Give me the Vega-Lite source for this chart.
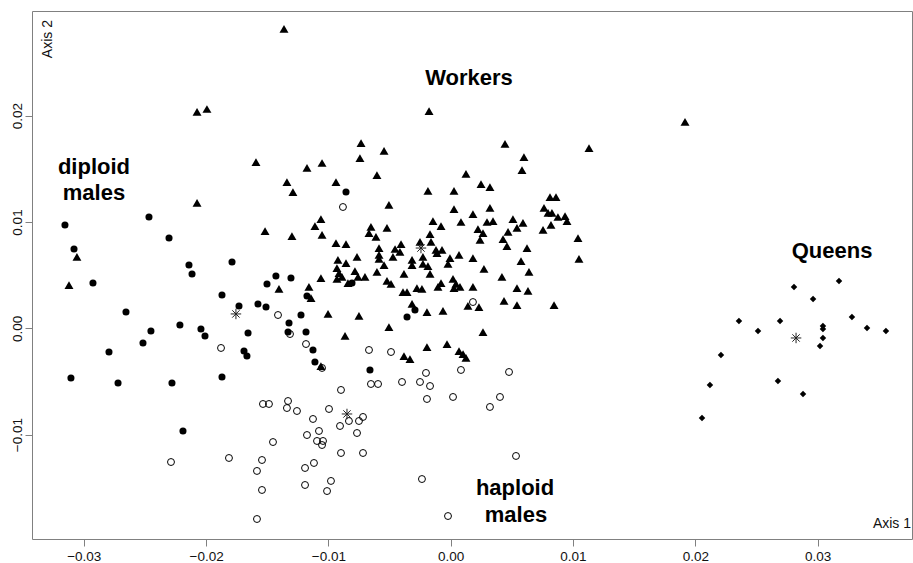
{
  "$schema": "https://vega.github.io/schema/vega-lite/v6.json",
  "width": 880,
  "height": 528,
  "autosize": {"type": "none"},
  "padding": {"left": 32, "top": 11, "right": 1, "bottom": 24},
  "background": "white",
  "config": {
    "view": {"stroke": "#808080", "strokeWidth": 1},
    "axis": {"domain": false, "grid": false, "tickColor": "#808080", "tickSize": 7, "labelFont": "Liberation Sans", "labelFontSize": 13.5, "labelColor": "#111111"}
  },
  "datasets": {
    "pts": [
      {"x":-0.01363,"y":0.02816,"g":"W"},{"x":-0.02074,"y":0.02035,"g":"W"},{"x":-0.01993,"y":0.02063,"g":"W"},{"x":-0.00177,"y":0.02044,"g":"W"},{"x":0.01916,"y":0.01941,"g":"W"},
      {"x":-0.00733,"y":0.01743,"g":"W"},{"x":-0.00545,"y":0.01668,"g":"W"},{"x":-0.00742,"y":0.01602,"g":"W"},{"x":0.00444,"y":0.01734,"g":"W"},{"x":0.01131,"y":0.01696,"g":"W"},
      {"x":-0.01592,"y":0.01564,"g":"W"},{"x":-0.01175,"y":0.01508,"g":"W"},{"x":-0.01052,"y":0.01555,"g":"W"},{"x":0.00599,"y":0.01611,"g":"W"},{"x":0.00583,"y":0.01489,"g":"W"},
      {"x":0.00125,"y":0.01452,"g":"W"},{"x":-0.00603,"y":0.01442,"g":"W"},{"x":-0.01339,"y":0.01376,"g":"W"},{"x":-0.0129,"y":0.01282,"g":"W"},{"x":-0.00938,"y":0.01376,"g":"W"},
      {"x":0.00248,"y":0.01357,"g":"W"},{"x":0.00321,"y":0.01329,"g":"W"},{"x":-0.00186,"y":0.01292,"g":"W"},{"x":0.00027,"y":0.01292,"g":"W"},{"x":-0.02074,"y":0.01179,"g":"W"},
      {"x":-0.00505,"y":0.0116,"g":"W"},{"x":0.00812,"y":0.01235,"g":"W"},{"x":0.00861,"y":0.01235,"g":"W"},{"x":0.00027,"y":0.01122,"g":"W"},{"x":0.00321,"y":0.01132,"g":"W"},
      {"x":0.00182,"y":0.01075,"g":"W"},{"x":0.00763,"y":0.01132,"g":"W"},{"x":0.00796,"y":0.01085,"g":"W"},{"x":0.00828,"y":0.01085,"g":"W"},{"x":0.00877,"y":0.01047,"g":"W"},
      {"x":0.00935,"y":0.01056,"g":"W"},{"x":0.00951,"y":0.01009,"g":"W"},{"x":0.0082,"y":0.00972,"g":"W"},{"x":0.00755,"y":0.00925,"g":"W"},{"x":0.01041,"y":0.00849,"g":"W"},
      {"x":0.01049,"y":0.00652,"g":"W"},{"x":-0.00145,"y":0.01009,"g":"W"},{"x":-0.00079,"y":0.00962,"g":"W"},{"x":0.00084,"y":0.01,"g":"W"},{"x":0.00297,"y":0.01,"g":"W"},
      {"x":0.00346,"y":0.01009,"g":"W"},{"x":0.00509,"y":0.01028,"g":"W"},{"x":0.00591,"y":0.00991,"g":"W"},{"x":0.00542,"y":0.00944,"g":"W"},{"x":0.00223,"y":0.00934,"g":"W"},
      {"x":0.00264,"y":0.00896,"g":"W"},{"x":0.0024,"y":0.00831,"g":"W"},{"x":0.00469,"y":0.00906,"g":"W"},{"x":0.00428,"y":0.0084,"g":"W"},{"x":0.0046,"y":0.00774,"g":"W"},
      {"x":0.00624,"y":0.00755,"g":"W"},{"x":-0.01061,"y":0.01028,"g":"W"},{"x":-0.0111,"y":0.00962,"g":"W"},{"x":-0.01052,"y":0.00878,"g":"W"},{"x":-0.01518,"y":0.00915,"g":"W"},
      {"x":-0.01298,"y":0.00868,"g":"W"},{"x":-0.00652,"y":0.00953,"g":"W"},{"x":-0.00668,"y":0.00896,"g":"W"},{"x":-0.00611,"y":0.00859,"g":"W"},{"x":-0.00521,"y":0.00944,"g":"W"},
      {"x":-0.00938,"y":0.00802,"g":"W"},{"x":-0.00856,"y":0.00793,"g":"W"},{"x":-0.00406,"y":0.00793,"g":"W"},{"x":-0.00169,"y":0.00887,"g":"W"},{"x":-0.00161,"y":0.00812,"g":"W"},
      {"x":-0.00251,"y":0.00812,"g":"W"},{"x":-0.00586,"y":0.00755,"g":"W"},{"x":-0.00455,"y":0.00746,"g":"W"},{"x":-0.0012,"y":0.00737,"g":"W"},{"x":-0.00071,"y":0.00737,"g":"W"},
      {"x":-0.00112,"y":0.00708,"g":"W"},{"x":-0.03056,"y":0.00671,"g":"W"},{"x":-0.03121,"y":0.00407,"g":"W"},{"x":-0.00586,"y":0.0069,"g":"W"},{"x":-0.00586,"y":0.00652,"g":"W"},
      {"x":-0.00472,"y":0.00671,"g":"W"},{"x":-0.00415,"y":0.00718,"g":"W"},{"x":-0.00316,"y":0.00643,"g":"W"},{"x":-0.00227,"y":0.00671,"g":"W"},{"x":-0.00227,"y":0.00605,"g":"W"},
      {"x":-0.00186,"y":0.00586,"g":"W"},{"x":-0.00316,"y":0.00595,"g":"W"},{"x":-0.00006,"y":0.00661,"g":"W"},{"x":0.00068,"y":0.0069,"g":"W"},{"x":-0.00022,"y":0.00605,"g":"W"},
      {"x":0.00182,"y":0.00661,"g":"W"},{"x":0.00575,"y":0.00633,"g":"W"},{"x":0.00272,"y":0.00558,"g":"W"},{"x":0.0064,"y":0.0053,"g":"W"},{"x":-0.00766,"y":0.00671,"g":"W"},
      {"x":-0.00922,"y":0.00643,"g":"W"},{"x":-0.0093,"y":0.00567,"g":"W"},{"x":-0.00856,"y":0.00614,"g":"W"},{"x":-0.00783,"y":0.00539,"g":"W"},{"x":-0.00701,"y":0.00483,"g":"W"},
      {"x":-0.00603,"y":0.0053,"g":"W"},{"x":-0.00382,"y":0.00511,"g":"W"},{"x":-0.00169,"y":0.00511,"g":"W"},{"x":0.00419,"y":0.00483,"g":"W"},{"x":-0.01061,"y":0.00473,"g":"W"},
      {"x":-0.0093,"y":0.00464,"g":"W"},{"x":-0.00889,"y":0.00483,"g":"W"},{"x":-0.00545,"y":0.00595,"g":"W"},{"x":-0.00521,"y":0.00445,"g":"W"},{"x":-0.00488,"y":0.00417,"g":"W"},
      {"x":0.00019,"y":0.00464,"g":"W"},{"x":0.00043,"y":0.00417,"g":"W"},{"x":-0.00079,"y":0.00426,"g":"W"},{"x":-0.00104,"y":0.00389,"g":"W"},{"x":0.00076,"y":0.00389,"g":"W"},
      {"x":0.00027,"y":0.00379,"g":"W"},{"x":0.00182,"y":0.00389,"g":"W"},{"x":-0.00276,"y":0.00379,"g":"W"},{"x":-0.00235,"y":0.0037,"g":"W"},{"x":-0.0039,"y":0.00341,"g":"W"},
      {"x":-0.00357,"y":0.00341,"g":"W"},{"x":0.00542,"y":0.00379,"g":"W"},{"x":0.00632,"y":0.00351,"g":"W"},{"x":-0.01404,"y":0.0037,"g":"W"},{"x":-0.01159,"y":0.00389,"g":"W"},
      {"x":-0.01142,"y":0.00285,"g":"W"},{"x":0.00141,"y":0.0021,"g":"W"},{"x":0.00231,"y":0.002,"g":"W"},{"x":0.00436,"y":0.00257,"g":"W"},{"x":0.00542,"y":0.00219,"g":"W"},
      {"x":0.00845,"y":0.00219,"g":"W"},{"x":-0.00316,"y":0.00229,"g":"W"},{"x":-0.00194,"y":0.00153,"g":"W"},{"x":-0.00063,"y":0.00163,"g":"W"},{"x":-0.01003,"y":0.00135,"g":"W"},
      {"x":-0.0075,"y":0.00116,"g":"W"},{"x":-0.00505,"y":0.00012,"g":"W"},{"x":-0.00864,"y":-0.00072,"g":"W"},{"x":0.00264,"y":-0.00035,"g":"W"},{"x":-0.00194,"y":-0.00176,"g":"W"},
      {"x":-0.0003,"y":-0.00148,"g":"W"},{"x":0.00068,"y":-0.00214,"g":"W"},{"x":0.00101,"y":-0.00242,"g":"W"},{"x":0.00125,"y":-0.00279,"g":"W"},{"x":-0.00382,"y":-0.00261,"g":"W"},
      {"x":-0.00333,"y":-0.00289,"g":"W"},{"x":-0.01061,"y":-0.00355,"g":"W"},{"x":-0.00758,"y":0.00483,"g":"W"},{"x":-0.0084,"y":0.00426,"g":"W"},{"x":-0.00913,"y":0.0052,"g":"W"},

      {"x":-0.03154,"y":0.00972,"g":"D"},{"x":-0.02467,"y":0.01047,"g":"D"},{"x":-0.0308,"y":0.00746,"g":"D"},{"x":-0.02303,"y":0.00849,"g":"D"},{"x":-0.0214,"y":0.00595,"g":"D"},
      {"x":-0.02115,"y":0.00511,"g":"D"},{"x":-0.01788,"y":0.00624,"g":"D"},{"x":-0.01429,"y":0.00492,"g":"D"},{"x":-0.01306,"y":0.00473,"g":"D"},{"x":-0.01502,"y":0.00417,"g":"D"},
      {"x":-0.02925,"y":0.00426,"g":"D"},{"x":-0.0187,"y":0.00313,"g":"D"},{"x":-0.01175,"y":0.00304,"g":"D"},{"x":-0.01731,"y":0.0021,"g":"D"},{"x":-0.01576,"y":0.00229,"g":"D"},
      {"x":-0.0151,"y":0.002,"g":"D"},{"x":-0.02655,"y":0.00153,"g":"D"},{"x":-0.01224,"y":0.00125,"g":"D"},{"x":-0.01322,"y":0.0005,"g":"D"},{"x":-0.02214,"y":0.00031,"g":"D"},
      {"x":-0.02451,"y":-0.00025,"g":"D"},{"x":-0.02042,"y":-0.00007,"g":"D"},{"x":-0.02009,"y":-0.00072,"g":"D"},{"x":-0.01657,"y":-0.00044,"g":"D"},{"x":-0.0133,"y":-0.00035,"g":"D"},
      {"x":-0.01183,"y":-0.00035,"g":"D"},{"x":-0.02516,"y":-0.00138,"g":"D"},{"x":-0.02794,"y":-0.00223,"g":"D"},{"x":-0.0169,"y":-0.00214,"g":"D"},{"x":-0.01666,"y":-0.00261,"g":"D"},
      {"x":-0.01126,"y":-0.00204,"g":"D"},{"x":-0.0111,"y":-0.00317,"g":"D"},{"x":-0.03105,"y":-0.00468,"g":"D"},{"x":-0.0272,"y":-0.00515,"g":"D"},{"x":-0.02279,"y":-0.00515,"g":"D"},
      {"x":-0.0187,"y":-0.00458,"g":"D"},{"x":-0.02189,"y":-0.00966,"g":"D"},{"x":-0.00856,"y":0.01282,"g":"D"},{"x":-0.00292,"y":0.00172,"g":"D"},{"x":-0.00357,"y":0.00106,"g":"D"},
      {"x":-0.0066,"y":-0.00392,"g":"D"},{"x":-0.00807,"y":0.00426,"g":"D"},

      {"x":-0.00881,"y":0.01141,"g":"H"},{"x":-0.01412,"y":0.00125,"g":"H"},{"x":-0.01314,"y":-0.00054,"g":"H"},{"x":-0.01183,"y":-0.00148,"g":"H"},{"x":-0.01878,"y":-0.00185,"g":"H"},
      {"x":0.00182,"y":0.00247,"g":"H"},{"x":-0.00668,"y":-0.00204,"g":"H"},{"x":-0.00488,"y":-0.00223,"g":"H"},{"x":-0.01052,"y":-0.00373,"g":"H"},{"x":-0.00202,"y":-0.0042,"g":"H"},
      {"x":0.00084,"y":-0.00392,"g":"H"},{"x":0.00477,"y":-0.00411,"g":"H"},{"x":-0.00652,"y":-0.00524,"g":"H"},{"x":-0.00594,"y":-0.00524,"g":"H"},{"x":-0.00398,"y":-0.00505,"g":"H"},
      {"x":-0.00251,"y":-0.00505,"g":"H"},{"x":-0.00169,"y":-0.00543,"g":"H"},{"x":-0.00897,"y":-0.0058,"g":"H"},{"x":-0.00194,"y":-0.00665,"g":"H"},{"x":0.00019,"y":-0.00646,"g":"H"},
      {"x":0.00403,"y":-0.00646,"g":"H"},{"x":0.00321,"y":-0.0074,"g":"H"},{"x":-0.00995,"y":-0.00759,"g":"H"},{"x":-0.01535,"y":-0.00712,"g":"H"},{"x":-0.01486,"y":-0.00712,"g":"H"},
      {"x":-0.0133,"y":-0.00684,"g":"H"},{"x":-0.01339,"y":-0.0075,"g":"H"},{"x":-0.01257,"y":-0.00778,"g":"H"},{"x":-0.01126,"y":-0.00853,"g":"H"},{"x":-0.00832,"y":-0.00872,"g":"H"},
      {"x":-0.0075,"y":-0.00872,"g":"H"},{"x":-0.00717,"y":-0.00834,"g":"H"},{"x":-0.00905,"y":-0.00919,"g":"H"},{"x":-0.01077,"y":-0.00966,"g":"H"},{"x":-0.00766,"y":-0.00985,"g":"H"},
      {"x":-0.01175,"y":-0.01004,"g":"H"},{"x":-0.01093,"y":-0.0106,"g":"H"},{"x":-0.01044,"y":-0.0106,"g":"H"},{"x":-0.01052,"y":-0.01098,"g":"H"},{"x":-0.01453,"y":-0.0107,"g":"H"},
      {"x":-0.00897,"y":-0.01173,"g":"H"},{"x":-0.00717,"y":-0.01173,"g":"H"},{"x":0.00534,"y":-0.01201,"g":"H"},{"x":-0.02287,"y":-0.01258,"g":"H"},{"x":-0.01813,"y":-0.0122,"g":"H"},
      {"x":-0.01543,"y":-0.01239,"g":"H"},{"x":-0.01584,"y":-0.01342,"g":"H"},{"x":-0.01118,"y":-0.01267,"g":"H"},{"x":-0.01191,"y":-0.01314,"g":"H"},{"x":-0.00979,"y":-0.01436,"g":"H"},
      {"x":-0.01191,"y":-0.01474,"g":"H"},{"x":-0.01011,"y":-0.01531,"g":"H"},{"x":-0.01543,"y":-0.01521,"g":"H"},{"x":-0.00235,"y":-0.01418,"g":"H"},{"x":-0.00022,"y":-0.01766,"g":"H"},
      {"x":-0.01584,"y":-0.01794,"g":"H"},

      {"x":0.03175,"y":0.00445,"g":"Q"},{"x":0.02807,"y":0.00389,"g":"Q"},{"x":0.02963,"y":0.00276,"g":"Q"},{"x":0.02357,"y":0.00069,"g":"Q"},{"x":0.02693,"y":0.00069,"g":"Q"},
      {"x":0.03281,"y":0.00106,"g":"Q"},{"x":0.02513,"y":-0.00025,"g":"Q"},{"x":0.03044,"y":0.00022,"g":"Q"},{"x":0.03044,"y":-0.00007,"g":"Q"},{"x":0.03404,"y":0.00003,"g":"Q"},
      {"x":0.03559,"y":-0.00025,"g":"Q"},{"x":0.03044,"y":-0.00091,"g":"Q"},{"x":0.0302,"y":-0.00167,"g":"Q"},{"x":0.0221,"y":-0.00251,"g":"Q"},{"x":0.0212,"y":-0.00533,"g":"Q"},
      {"x":0.02676,"y":-0.00496,"g":"Q"},{"x":0.02881,"y":-0.00618,"g":"Q"},{"x":0.02055,"y":-0.00844,"g":"Q"},

      {"x":-0.00243,"y":0.00755,"g":"C"},{"x":-0.01756,"y":0.00135,"g":"C"},{"x":-0.00848,"y":-0.00806,"g":"C"},{"x":0.02824,"y":-0.00091,"g":"C"}
    ],
    "grouplabels": [
      {"x":0.0015,"y":0.02355,"t":"Workers"},
      {"x":-0.02917,"y":0.01517,"t":"diploid"},
      {"x":-0.02917,"y":0.01273,"t":"males"},
      {"x":0.03118,"y":0.00727,"t":"Queens"},
      {"x":0.00526,"y":-0.01502,"t":"haploid"},
      {"x":0.00534,"y":-0.01756,"t":"males"}
    ],
    "axis1": [{"x":0.03764,"y":-0.01841,"t":"Axis 1"}],
    "axis2": [{"x":-0.03293,"y":0.029,"t":"Axis 2"}]
  },
  "encoding": {
    "x": {"field": "x", "type": "quantitative",
      "scale": {"domain": [-0.034235, 0.03772], "nice": false, "zero": false},
      "axis": {"title": null, "values": [-0.03, -0.02, -0.01, 0, 0.01, 0.02, 0.03], "format": ".2f", "labelPadding": 3}},
    "y": {"field": "y", "type": "quantitative",
      "scale": {"domain": [-0.019821, 0.029849], "nice": false, "zero": false},
      "axis": {"title": null, "values": [-0.01, 0, 0.01, 0.02], "format": ".2f", "labelAngle": -90, "labelAlign": "center", "labelBaseline": "bottom", "labelPadding": 1}}
  },
  "layer": [
    {"data": {"name": "pts"}, "transform": [{"filter": "datum.g === 'D'"}],
     "mark": {"type": "point", "shape": "circle", "filled": true, "color": "#000000", "size": 50, "opacity": 1}},
    {"data": {"name": "pts"}, "transform": [{"filter": "datum.g === 'H'"}],
     "mark": {"type": "point", "shape": "circle", "filled": false, "stroke": "#000000", "strokeWidth": 1, "size": 48, "opacity": 1}},
    {"data": {"name": "pts"}, "transform": [{"filter": "datum.g === 'W'"}],
     "mark": {"type": "point", "shape": "triangle-up", "filled": true, "color": "#000000", "size": 80, "opacity": 1}},
    {"data": {"name": "pts"}, "transform": [{"filter": "datum.g === 'Q'"}],
     "mark": {"type": "point", "shape": "diamond", "filled": true, "color": "#000000", "size": 42, "opacity": 1}},
    {"data": {"name": "pts"}, "transform": [{"filter": "datum.g === 'C'"}],
     "mark": {"type": "point", "shape": "M-1,0L1,0M0,-1L0,1M-0.7,-0.7L0.7,0.7M-0.7,0.7L0.7,-0.7", "filled": false, "stroke": "#222222", "strokeWidth": 1, "size": 110, "opacity": 1}},
    {"data": {"name": "grouplabels"},
     "mark": {"type": "text", "font": "Liberation Sans", "fontSize": 22, "fontWeight": "bold", "color": "#000000", "align": "center", "baseline": "middle"},
     "encoding": {"text": {"field": "t"}}},
    {"data": {"name": "axis1"},
     "mark": {"type": "text", "font": "Liberation Sans", "fontSize": 14, "color": "#111111", "align": "right", "baseline": "middle"},
     "encoding": {"text": {"field": "t"}}},
    {"data": {"name": "axis2"},
     "mark": {"type": "text", "font": "Liberation Sans", "fontSize": 14, "color": "#111111", "align": "right", "baseline": "middle", "angle": 270},
     "encoding": {"text": {"field": "t"}}}
  ]
}
